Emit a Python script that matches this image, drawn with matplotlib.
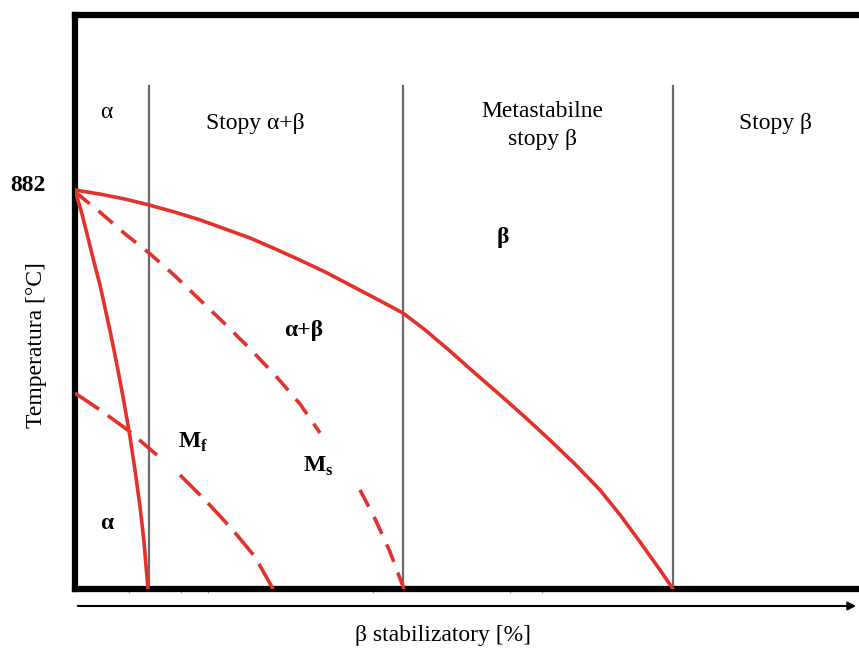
import matplotlib
matplotlib.use("Agg")
import matplotlib.pyplot as plt

plt.rcParams['font.family'] = ['Liberation Serif', 'DejaVu Serif']
plt.rcParams['mathtext.fontset'] = 'custom'
plt.rcParams['mathtext.rm'] = 'Liberation Serif'
plt.rcParams['mathtext.bf'] = 'Liberation Serif:bold'

# ---- data (x: beta stabilizer %, y: temperature) ----
beta_transus_x = [0, 3.19, 6.38, 9.44, 12.76, 15.94, 19.13, 22.32, 25.51, 28.70, 31.89, 35.08,
                  38.27, 41.84, 44.64, 47.83, 51.02, 54.21, 57.40, 60.59, 63.78, 66.96, 69.52,
                  72.07, 74.62, 76.28]
beta_transus_y = [882, 873, 862, 849, 833, 816, 796, 776, 752, 727, 701, 672,
                  643, 610, 573, 526, 477, 429, 380, 329, 276, 219, 164,
                  104, 42, 0]

alpha_transus_x = [0, 0.89, 1.66, 2.42, 3.19, 3.95, 4.72, 5.48, 6.25, 7.02, 7.65, 8.29, 8.80, 9.31]
alpha_transus_y = [882, 829, 776, 723, 672, 612, 550, 484, 413, 336, 263, 183, 104, 0]

ms_upper_x = [0, 3.19, 6.38, 9.44, 12.76, 15.94, 19.13, 22.32, 25.51, 28.70, 31.25]
ms_upper_y = [878, 833, 785, 743, 692, 639, 586, 531, 473, 409, 345]
ms_lower_x = [36.35, 38.27, 40.18, 41.96]
ms_lower_y = [219, 155, 82, 0]

mf_upper_x = [0, 3.19, 6.76, 10.46]
mf_upper_y = [433, 396, 351, 296]
mf_lower_x = [13.39, 16.58, 20.15, 22.96, 25.26]
mf_lower_y = [252, 197, 130, 71, 0]

region_bounds = [9.44, 41.84, 76.28]
region_labels = ["Stopy α+β", "Metastabilne\nstopy β", "Stopy β"]
region_label_x = [23.0, 59.6, 89.3]
minor_ticks = [6.9, 13.5, 17.0, 38.0, 55.5, 59.6]

RED = "#e4312b"

fig = plt.figure(figsize=(8.59, 6.5), dpi=100)
W, H = 859, 650
left, right, top, bottom = 75, 859, 14.5, 589
ax = fig.add_axes([left / W, (H - bottom) / H, (right - left) / W, (bottom - top) / H])
ax.set_xlim(0, 100)
ax.set_ylim(0, 1270)

for s in ['left', 'top', 'bottom']:
    ax.spines[s].set_linewidth(4.5)
    ax.spines[s].set_color('black')
ax.spines['right'].set_visible(False)
ax.set_yticks([])
ax.set_xticks(minor_ticks)
ax.set_xticklabels([])
ax.tick_params(axis='x', length=3, width=0.8, color='#999999', direction='out')

# vertical region boundaries
for xb in region_bounds:
    ax.plot([xb, xb], [0, 1111], color='#6b6b6b', lw=1.6, zorder=1)

# curves
ax.plot(beta_transus_x, beta_transus_y, color=RED, lw=2.6, zorder=3)
ax.plot(alpha_transus_x, alpha_transus_y, color=RED, lw=2.6, zorder=3)
for xs, ys in [(ms_upper_x, ms_upper_y), (ms_lower_x, ms_lower_y)]:
    ax.plot(xs, ys, color=RED, lw=2.6, dashes=(5.2, 3.2), zorder=3)
for xs, ys in [(mf_upper_x, mf_upper_y), (mf_lower_x, mf_lower_y)]:
    ax.plot(xs, ys, color=RED, lw=2.6, dashes=(8.0, 3.0), zorder=3)

# texts
fs = 17
ax.text(4.0, 1054, "α", fontsize=fs, ha='center', va='center')
for lx, lab in zip(region_label_x, region_labels):
    ax.text(lx, 1028 if "\n" not in lab else 1024, lab, fontsize=fs, ha='center', va='center',
            linespacing=1.45)
ax.text(54.6, 778, "β", fontsize=fs, fontweight='bold', ha='center', va='center')
ax.text(29.2, 572, "α+β", fontsize=fs, fontweight='bold', ha='center', va='center')
ax.text(15.1, 323, r"$\mathbf{M}_\mathbf{f}$", fontsize=fs, ha='center', va='center')
ax.text(31.0, 270, r"$\mathbf{M}_\mathbf{s}$", fontsize=fs, ha='center', va='center')
ax.text(4.0, 144, "α", fontsize=fs, fontweight='bold', ha='center', va='center')
ax.text(-6.0, 893, "882", fontsize=fs, fontweight='bold', ha='center', va='center', clip_on=False)

fig.text(37 / W, 1 - 345 / H, "Temperatura [°C]", fontsize=fs, rotation=90, ha='center', va='center')
fig.text(443 / W, 1 - 635 / H, "β stabilizatory [%]", fontsize=fs, ha='center', va='center')

# axis arrow
fig.add_artist(matplotlib.patches.FancyArrowPatch(
    (left / W, 1 - 606 / H), (1.0, 1 - 606 / H), transform=fig.transFigure,
    arrowstyle='-|>', mutation_scale=12, lw=1.5, color='black'))

fig.savefig("out.png", dpi=100)
